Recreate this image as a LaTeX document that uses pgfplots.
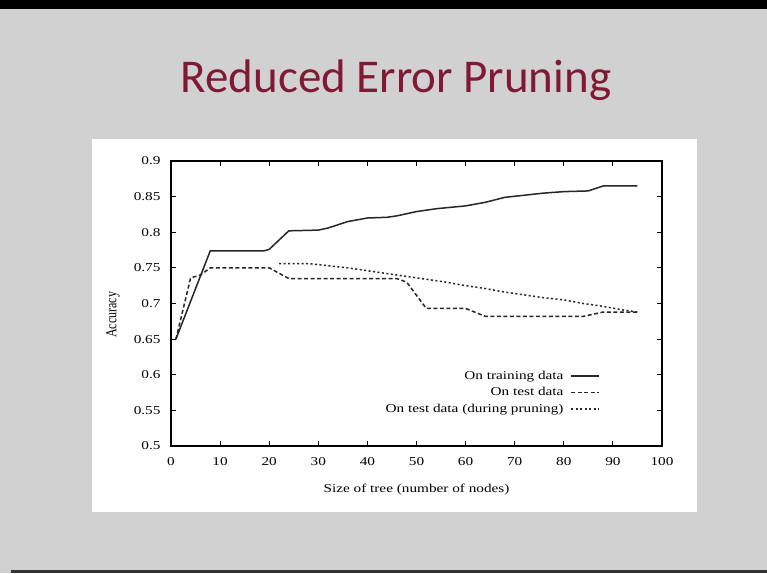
\documentclass[border=0pt]{standalone}
\usepackage{pgfplots}
\pgfplotsset{compat=1.18}
\usepackage{graphicx}
\usepackage{fontspec}
\setmainfont{Liberation Serif}
\newfontfamily\titlefont{Carlito}
\definecolor{slidebg}{RGB}{209,209,209}
\definecolor{titlered}{RGB}{128,26,52}
% the gnuplot figure was stretched sideways on the slide
\newcommand\sx[1]{\scalebox{1.27}[1]{#1}}

\begin{document}
\begin{tikzpicture}[x=1pt,y=1pt]
\fill[slidebg] (0,0) rectangle (767,573);
\useasboundingbox (0,0) rectangle (767,573);
\fill[black] (0,564) rectangle (767,573);
\fill[black!80] (11,0) rectangle (767,3);
\fill[white] (92,61) rectangle (697,434);
\node[anchor=base, text=titlered, font=\titlefont\fontsize{47}{56}\selectfont] at (396,480) {Reduced Error Pruning};

\begin{axis}[
  at={(171pt,127pt)}, anchor=south west,
  width=491pt, height=285pt, scale only axis,
  xmin=0, xmax=100, ymin=0.5, ymax=0.9,
  xtick={0,10,...,100},
  ytick={0.5,0.55,0.6,0.65,0.7,0.75,0.8,0.85,0.9},
  tick align=inside, major tick length=5pt,
  axis line style={line width=1.4pt},
  every tick/.style={black, line width=1pt},
  /pgf/number format/assume math mode=true,
  /pgf/number format/precision=2,
  tick label style={font=\fontsize{12}{14}\selectfont},
  xticklabel={\sx{\pgfmathprintnumber{\tick}}},
  yticklabel={\sx{\pgfmathprintnumber{\tick}}},
  xticklabel style={yshift=-8pt},
  yticklabel style={xshift=-7pt},
  label style={font=\fontsize{12}{14}\selectfont},
  xlabel={\sx{Size of tree (number of nodes)}},
  ylabel={\scalebox{1}[1.27]{Accuracy}},
  xlabel style={at={(axis description cs:0.5,-0.153)}, anchor=center},
  ylabel style={at={(axis description cs:-0.118,0.46)}, anchor=center},
  legend cell align=right, legend plot pos=right,
  legend style={at={(rel axis cs:0.874,0.27)}, anchor=north east, draw=none, fill=none,
    font=\fontsize{12}{14}\selectfont, row sep=2.5pt, column sep=5pt, inner sep=0pt},
  legend image code/.code={\draw[#1] (0pt,0pt) -- (28pt,0pt);},
]
\addplot[black!85, line width=1.5pt] coordinates {
  (1,0.650) (8,0.774) (19,0.774) (20,0.776) (24,0.802) (30,0.803) (32,0.806)
  (36,0.815) (40,0.820) (44,0.821) (46,0.823) (50,0.829) (54,0.833) (60,0.837)
  (64,0.842) (68,0.849) (72,0.852) (76,0.855) (80,0.857) (85,0.858) (88,0.865) (95,0.865)};
\addlegendentry{\sx{On training data}}
\addplot[black!85, line width=1.5pt, dash pattern=on 4pt off 2.5pt] coordinates {
  (1,0.650) (4,0.736) (6,0.740) (8,0.750) (20,0.750) (24,0.735) (46,0.735)
  (48,0.730) (52,0.693) (60,0.693) (64,0.682) (84,0.682) (88,0.688) (95,0.688)};
\addlegendentry{\sx{On test data}}
\addplot[black!85, line width=1.5pt, dash pattern=on 2pt off 2.5pt] coordinates {
  (22,0.756) (28,0.756) (32,0.753) (36,0.750) (40,0.746) (44,0.742) (48,0.738)
  (52,0.734) (56,0.730) (60,0.725) (64,0.721) (68,0.716) (72,0.712) (76,0.708)
  (80,0.705) (84,0.700) (88,0.696) (92,0.691) (95,0.688)};
\addlegendentry{\sx{On test data (during pruning)}}
\end{axis}
\end{tikzpicture}
\end{document}
